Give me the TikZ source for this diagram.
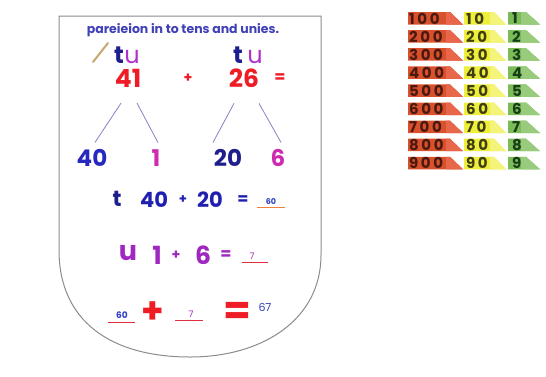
\documentclass[tikz,border=0pt]{standalone}
\usepackage{fontspec}
\setmainfont{Poppins}
\definecolor{titleblue}{HTML}{4040B8}
\definecolor{tblue}{HTML}{1E1E8C}
\definecolor{upurple}{HTML}{B030C8}
\definecolor{numred}{HTML}{EE1C24}
\definecolor{pencil}{HTML}{C8A870}
\definecolor{blueforty}{HTML}{2828C0}
\definecolor{magenta2}{HTML}{D02AAE}
\definecolor{rowblue}{HTML}{2020B0}
\definecolor{rowpurple}{HTML}{A028C0}
\definecolor{ulorange}{HTML}{F08040}
\definecolor{ulred}{HTML}{E03040}
\definecolor{smallblue}{HTML}{3040C0}
\definecolor{branchcol}{HTML}{8484C4}
\definecolor{shieldcol}{HTML}{8C8C8C}
\definecolor{tilered}{HTML}{D8502C}
\definecolor{tileredlt}{HTML}{E8664A}
\definecolor{tileyel}{HTML}{EEEE3C}
\definecolor{tileyellt}{HTML}{F4F47A}
\definecolor{tilegrn}{HTML}{7CBC58}
\definecolor{tilegrnlt}{HTML}{98CC7C}
\definecolor{txtred}{HTML}{4A1A10}
\definecolor{txtyel}{HTML}{3E3E10}
\definecolor{txtgrn}{HTML}{183E18}
\newcommand{\fsz}[1]{\fontsize{#1}{#1}\selectfont}
\begin{document}
\begin{tikzpicture}[x=1pt,y=-1pt,
  every node/.style={inner sep=0pt,outer sep=0pt},
  big/.style={font=\fsz{25}\bfseries},
  mid/.style={font=\fsz{23}\bfseries},
  branch/.style={draw=branchcol,line width=0.8pt},
  uline/.style={line width=0.9pt},
  tiletext/.style={anchor=west,font=\fsz{15}\bfseries\addfontfeatures{LetterSpace=18}},
]
\useasboundingbox (0,0) rectangle (546,376);
\fill[white] (0,0) rectangle (546,376);
% shield
\draw[shieldcol,line width=1pt] (59,16) -- (321,16) -- (321,255)
  .. controls (321,320) and (262,357) .. (190,357)
  .. controls (112,357) and (59,322) .. (59,250) -- cycle;
% title
\node[font=\fsz{12.5}\bfseries,text=titleblue] (title) at (183,30) {pareieion in to tens and unies.};
% pencil mark
\draw[pencil,line width=2pt,line cap=round] (93,62) -- (108,43);
% tu labels
\node[font=\fsz{24}\bfseries,text=tblue] (t1) at (119,55) {t};
\node[font=\fsz{24},text=upurple] (u1) at (132,57) {u};
\node[font=\fsz{24}\bfseries,text=tblue] (t2) at (238,55) {t};
\node[font=\fsz{24},text=upurple] (u2) at (255,57) {u};
% 41 + 26 =
\node[big,text=numred] (n41) at (128,78) {41};
\node[font=\fsz{14}\bfseries,text=numred] (p1) at (188,78) {+};
\node[big,text=numred] (n26) at (244,78) {26};
\node[font=\fsz{16}\bfseries,text=numred] (e1) at (280,78) {=};
% partitions
\node[mid,text=blueforty] (n40) at (92,158) {40};
\node[mid,text=magenta2] (n1) at (156,158) {1};
\node[mid,text=tblue] (n20) at (228,158) {20};
\node[mid,text=magenta2] (n6) at (278,158) {6};
\draw[branch] ([shift={(-7pt,-16pt)}]n41.south) -- ([shift={(3pt,7pt)}]n40.north);
\draw[branch] ([shift={(9pt,-16pt)}]n41.south) -- ([shift={(2pt,7pt)}]n1.north);
\draw[branch] ([shift={(-10pt,-16pt)}]n26.south) -- ([shift={(-15pt,7pt)}]n20.north);
\draw[branch] ([shift={(15pt,-16pt)}]n26.south) -- ([shift={(3pt,7pt)}]n6.north);
% t row
\node[font=\fsz{22}\bfseries,text=tblue] (tt) at (117,199) {t};
\node[font=\fsz{21}\bfseries,text=rowblue] (t40) at (154,200) {40};
\node[font=\fsz{13}\bfseries,text=rowblue] (tp) at (183,200) {+};
\node[font=\fsz{21}\bfseries,text=rowblue] (t20) at (210,200) {20};
\node[font=\fsz{16}\bfseries,text=rowblue] (te) at (243,200) {=};
\node[font=\fsz{8}\bfseries,text=smallblue] (t60) at (271,202) {60};
\draw[ulorange,uline] (257,207) -- (285,207);
% u row
\node[font=\fsz{27}\bfseries,text=rowpurple] (uu) at (128,253) {u};
\node[font=\fsz{25}\bfseries,text=rowpurple] (u1n) at (157,255) {1};
\node[font=\fsz{14}\bfseries,text=rowpurple] (up) at (176,255) {+};
\node[font=\fsz{25}\bfseries,text=rowpurple] (u6) at (203,255) {6};
\node[font=\fsz{16}\bfseries,text=rowpurple] (ue) at (226,255) {=};
\node[font=\fsz{9},text=rowpurple] (u7) at (252,256) {7};
\draw[ulred,uline] (242,262) -- (268,262);
% final row
\node[font=\fsz{9}\bfseries,text=smallblue] (f60) at (122,315) {60};
\draw[ulred,uline] (108,322) -- (135,322);
\node[font=\fsz{36}\bfseries,text=numred] (fp) at (153,313) {+};
\node[font=\fsz{9},text=rowpurple] (f7) at (191,314) {7};
\draw[ulred,uline] (175,320) -- (203,320);
\node[font=\fsz{40}\bfseries,text=numred] (fe) at (237,313) {=};
\node[font=\fsz{11},text=smallblue] (f67) at (265,307) {67};
% number tiles
\foreach \i in {1,...,9}{
  \pgfmathsetmacro\yt{12+(\i-1)*18.1}
  \fill[tilered] (408,\yt) -- (450,\yt) -- (463,\yt+12.5) -- (408,\yt+12.5) -- cycle;
  \fill[tileredlt] (446,\yt) -- (450,\yt) -- (463,\yt+12.5) -- (446,\yt+12.5) -- cycle;
  \fill[tileyel] (464,\yt) -- (494,\yt) -- (506,\yt+12.5) -- (464,\yt+12.5) -- cycle;
  \fill[tileyellt] (490,\yt) -- (494,\yt) -- (506,\yt+12.5) -- (490,\yt+12.5) -- cycle;
  \fill[tilegrn] (508,\yt) -- (526,\yt) -- (540,\yt+12.5) -- (508,\yt+12.5) -- cycle;
  \fill[tilegrnlt] (521,\yt) -- (526,\yt) -- (540,\yt+12.5) -- (521,\yt+12.5) -- cycle;
  \node[tiletext,text=txtred] (h\i) at (409,\yt+6.5) {\i00};
  \node[tiletext,text=txtyel] (d\i) at (466,\yt+6.5) {\i0};
  \node[tiletext,text=txtgrn] (o\i) at (512,\yt+6.5) {\i};
}
\end{tikzpicture}
\end{document}
